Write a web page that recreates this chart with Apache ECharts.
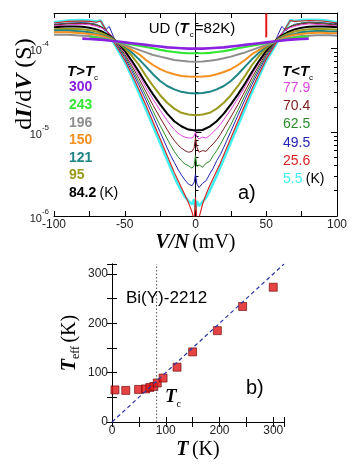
<!DOCTYPE html>
<html><head><meta charset="utf-8">
<script src="https://cdn.jsdelivr.net/npm/echarts@6/dist/echarts.min.js"></script>
<style>html,body{margin:0;padding:0;background:#fff}#c{width:360px;height:473px}</style>
</head><body><div id="c"></div>
<script>
// ---------- Panel a) : dI/dV vs V/N (values stored as log10 of conductance in S) ----------
const biasV = [-100,-95,-90,-85,-80,-75,-70,-65,-60,-55,-50,-45,-40,-35,-30,-25,-20,-15,-10,-5,0,5,10,15,20,25,30,35,40,45,50,55,60,65,70,75,80,85,90,95,100];
const logG_300 = [null,null,null,null,-3.885,-3.89,-3.895,-3.90,-3.91,-3.92,-3.93,-3.94,-3.95,-3.96,-3.97,-3.98,-3.99,-3.995,-4.0,-4.005,-4.005,-4.005,-4.0,-3.995,-3.99,-3.98,-3.97,-3.96,-3.95,-3.94,-3.93,-3.92,-3.91,-3.90,-3.895,-3.89,-3.885,null,null,null,null];
const logG_243 = [null,null,null,null,null,-3.865,-3.875,-3.89,-3.905,-3.925,-3.94,-3.955,-3.97,-3.985,-4.0,-4.02,-4.035,-4.045,-4.055,-4.06,-4.06,-4.06,-4.055,-4.045,-4.035,-4.02,-4.0,-3.985,-3.97,-3.955,-3.94,-3.925,-3.905,-3.89,-3.875,-3.865,-3.86,null,null,null,null];
const logG_196 = [-3.84,-3.84,-3.84,-3.845,-3.85,-3.855,-3.865,-3.88,-3.90,-3.93,-3.96,-3.99,-4.02,-4.05,-4.08,-4.10,-4.12,-4.14,-4.15,-4.158,-4.16,-4.157,-4.15,-4.138,-4.12,-4.10,-4.075,-4.05,-4.02,-3.99,-3.96,-3.93,-3.90,-3.88,-3.865,-3.855,-3.85,-3.845,-3.845,-3.845,-3.85];
const logG_150 = [-3.81,-3.81,-3.81,-3.815,-3.82,-3.83,-3.84,-3.86,-3.89,-3.93,-3.97,-4.02,-4.07,-4.14,-4.20,-4.25,-4.285,-4.31,-4.33,-4.338,-4.34,-4.337,-4.33,-4.31,-4.283,-4.25,-4.20,-4.14,-4.07,-4.02,-3.97,-3.93,-3.89,-3.86,-3.84,-3.83,-3.82,-3.815,-3.815,-3.82,-3.82];
const logG_121 = [-3.79,-3.79,-3.79,-3.795,-3.80,-3.81,-3.83,-3.85,-3.88,-3.93,-3.98,-4.05,-4.13,-4.22,-4.31,-4.39,-4.45,-4.49,-4.52,-4.535,-4.54,-4.535,-4.52,-4.49,-4.45,-4.39,-4.31,-4.22,-4.13,-4.05,-3.98,-3.93,-3.88,-3.85,-3.83,-3.81,-3.80,-3.795,-3.795,-3.80,-3.80];
const logG_95 = [-3.775,-3.77,-3.77,-3.77,-3.775,-3.785,-3.80,-3.83,-3.87,-3.93,-4.00,-4.09,-4.20,-4.33,-4.45,-4.56,-4.65,-4.72,-4.77,-4.79,-4.80,-4.79,-4.77,-4.72,-4.65,-4.56,-4.45,-4.33,-4.20,-4.09,-4.00,-3.93,-3.87,-3.83,-3.80,-3.785,-3.775,-3.77,-3.77,-3.775,-3.78];
const logG_84 = [-3.75,-3.745,-3.74,-3.74,-3.745,-3.755,-3.775,-3.81,-3.86,-3.93,-4.03,-4.15,-4.28,-4.42,-4.55,-4.67,-4.78,-4.87,-4.93,-4.97,-4.98,-4.975,-4.935,-4.87,-4.78,-4.67,-4.55,-4.42,-4.28,-4.15,-4.03,-3.93,-3.86,-3.81,-3.775,-3.755,-3.745,-3.74,-3.74,-3.745,-3.75];

const biasVLow = [-100,-90,-80,-75,-70,-67,-64,-61,-58,-55,-50,-45,-40,-35,-30,-25,-20,-17.5,-15,-12.5,-10,-7.5,-5,-2.5,-1,0,1,2.5,5,7.5,10,12.5,15,17.5,20,25,30,35,40,45,50,55,58,61,64,67,70,75,80,90,100];
const logG_77 = [-3.735,-3.72,-3.715,-3.72,-3.74,-3.755,-3.78,-3.825,-3.875,-3.95,-4.05,-4.18,-4.32,-4.47,-4.61,-4.74,-4.86,-4.92,-4.97,-5.01,-5.04,-5.06,-5.07,-5.07,-5.05,-5.0,-5.06,-5.08,-5.06,-5.07,-5.04,-5.0,-4.96,-4.91,-4.85,-4.73,-4.60,-4.46,-4.31,-4.17,-4.04,-3.94,-3.87,-3.82,-3.78,-3.755,-3.74,-3.72,-3.71,-3.72,-3.735];
const logG_70 = [-3.725,-3.71,-3.705,-3.71,-3.73,-3.745,-3.775,-3.82,-3.88,-3.96,-4.07,-4.21,-4.36,-4.52,-4.68,-4.83,-4.97,-5.04,-5.10,-5.15,-5.19,-5.22,-5.24,-5.23,-5.19,-5.07,-5.18,-5.24,-5.22,-5.23,-5.18,-5.14,-5.09,-5.03,-4.96,-4.82,-4.67,-4.51,-4.35,-4.20,-4.06,-3.95,-3.88,-3.82,-3.775,-3.745,-3.73,-3.71,-3.70,-3.71,-3.725];
const logG_62 = [-3.72,-3.705,-3.70,-3.705,-3.72,-3.74,-3.77,-3.82,-3.885,-3.97,-4.09,-4.24,-4.40,-4.57,-4.75,-4.92,-5.08,-5.16,-5.23,-5.29,-5.34,-5.38,-5.40,-5.43,-5.40,-5.28,-5.41,-5.39,-5.42,-5.37,-5.35,-5.28,-5.22,-5.15,-5.07,-4.91,-4.74,-4.56,-4.39,-4.23,-4.08,-3.96,-3.88,-3.82,-3.77,-3.74,-3.72,-3.70,-3.695,-3.70,-3.72];
const logG_49 = [-3.715,-3.70,-3.695,-3.70,-3.715,-3.74,-3.79,-3.74,-3.86,-3.98,-4.11,-4.27,-4.44,-4.62,-4.81,-5.00,-5.19,-5.28,-5.36,-5.44,-5.51,-5.57,-5.62,-5.64,-5.60,-5.50,-5.62,-5.66,-5.61,-5.58,-5.50,-5.43,-5.34,-5.27,-5.18,-4.99,-4.80,-4.61,-4.43,-4.26,-4.10,-3.97,-3.85,-3.74,-3.79,-3.74,-3.715,-3.70,-3.69,-3.695,-3.715];
const logG_25 = [-3.70,-3.68,-3.675,-3.68,-3.69,-3.675,-3.76,-3.84,-3.92,-4.00,-4.14,-4.31,-4.49,-4.68,-4.88,-5.08,-5.28,-5.38,-5.48,-5.57,-5.66,-5.75,-5.84,-5.95,-6.05,-5.78,-6.05,-6.02,-5.86,-5.74,-5.64,-5.55,-5.46,-5.37,-5.27,-5.07,-4.87,-4.67,-4.48,-4.30,-4.13,-3.99,-3.91,-3.83,-3.75,-3.67,-3.68,-3.675,-3.67,-3.675,-3.70];
const logG_5 = [-3.69,-3.67,-3.665,-3.67,-3.68,-3.67,-3.77,-3.85,-3.93,-4.02,-4.16,-4.34,-4.53,-4.73,-4.93,-5.13,-5.33,-5.43,-5.53,-5.62,-5.70,-5.77,-5.82,-5.86,-5.80,-5.92,-5.82,-5.88,-5.83,-5.78,-5.70,-5.61,-5.52,-5.42,-5.32,-5.12,-4.92,-4.72,-4.52,-4.33,-4.15,-4.01,-3.92,-3.84,-3.76,-3.665,-3.675,-3.665,-3.66,-3.665,-3.69];

const markerV = [50, 50];
const markerG = [2.6e-4, 1.35e-4];

const vTicks = [-100, -50, 0, 50, 100];
const gMajorTicks = [1e-6, 1e-5, 1e-4];
const gMinorTicks = [2e-6,3e-6,4e-6,5e-6,6e-6,7e-6,8e-6,9e-6,2e-5,3e-5,4e-5,5e-5,6e-5,7e-5,8e-5,9e-5,2e-4];

// ---------- Panel b) : T_eff vs T ----------
const tempT = [5.5, 25.6, 49.5, 62.5, 70.4, 77.9, 84.2, 95, 121, 150, 196, 243, 300];
const tempEff = [65, 64, 66, 67, 70, 72, 79, 89, 111, 142, 185, 234, 273];
const diagT = [0, 320];
const diagEff = [0, 320];
const tcT = [83, 83];
const tcEff = [0, 320];

const SANS = 'Liberation Sans, Arial, sans-serif';
const SERIF = 'Liberation Serif, Times New Roman, serif';

function pairsLog(vs, logs) {
  const out = [];
  vs.forEach((v, i) => { if (logs[i] !== null) out.push([v, Math.pow(10, logs[i])]); });
  return out;
}
function pairs(a, b) { return a.map((v, i) => [v, b[i]]); }

const curves = [
  {name:'5.5 K',  v: biasVLow, d: logG_5,  c:'#3ff0f0', w:2.6},
  {name:'25.6 K', v: biasVLow, d: logG_25, c:'#d81e1e', w:1.1},
  {name:'49.5 K', v: biasVLow, d: logG_49, c:'#2323b4', w:1},
  {name:'62.5 K', v: biasVLow, d: logG_62, c:'#2a8a2a', w:1},
  {name:'70.4 K', v: biasVLow, d: logG_70, c:'#7a1c1c', w:1},
  {name:'77.9 K', v: biasVLow, d: logG_77, c:'#dd44dd', w:1},
  {name:'84.2 K', v: biasV, d: logG_84, c:'#000000', w:2},
  {name:'95 K',   v: biasV, d: logG_95, c:'#9a9a1e', w:2},
  {name:'121 K',  v: biasV, d: logG_121, c:'#1e8585', w:2},
  {name:'150 K',  v: biasV, d: logG_150, c:'#f58f1e', w:2},
  {name:'196 K',  v: biasV, d: logG_196, c:'#8e8e8e', w:2},
  {name:'243 K',  v: biasV, d: logG_243, c:'#33e633', w:2.2},
  {name:'300 K',  v: biasV, d: logG_300, c:'#8a22e0', w:2.6}
];

const series = curves.map(c => ({
  name: c.name, type: 'line', xAxisIndex: 0, yAxisIndex: 0,
  data: pairsLog(c.v, c.d), showSymbol: false, symbol: 'none', clip: true,
  lineStyle: {color: c.c, width: c.w}, silent: true
}));
series.push({type:'line', xAxisIndex:0, yAxisIndex:0, data: pairs(markerV, markerG), symbol:'none',
  lineStyle:{color:'#e01818', width:2}, silent:true});
series.push({type:'line', xAxisIndex:2, yAxisIndex:4, data: pairs(tcT, tcEff), symbol:'none',
  lineStyle:{color:'#555', width:1, type:[1.5,2]}, silent:true});
series.push({type:'line', xAxisIndex:2, yAxisIndex:4, data: pairs(diagT, diagEff), symbol:'none',
  lineStyle:{color:'#2a36a8', width:1.2, type:[4,3]}, silent:true});
series.push({type:'scatter', xAxisIndex:2, yAxisIndex:4, data: pairs(tempT, tempEff), symbol:'rect', symbolSize:8,
  itemStyle:{color:'#e01515', borderColor:'#6a0000', borderWidth:0.8}, silent:true});

const axLine = {show:true, lineStyle:{color:'#000', width:1}};
function logAxis(pos, ticks, len, withLabel, showLine) {
  return {
    type:'log', gridIndex:0, position:pos, min:1e-6, max:2.63e-4, logBase:10,
    axisLine: showLine ? axLine : {show:false},
    axisTick:{show:true, inside:true, length:len, customValues: ticks, lineStyle:{color:'#000', width:1}},
    axisLabel: withLabel ? {show:true, customValues: gMajorTicks, margin:5,
      formatter: v => '{b|10}{s|' + Math.round(Math.log10(v)) + '}',
      rich:{b:{fontSize:11, fontFamily:SANS, color:'#222', lineHeight:16, verticalAlign:'bottom'},
            s:{fontSize:8, fontFamily:SANS, color:'#222', lineHeight:16, verticalAlign:'top'}}} : {show:false},
    splitLine:{show:false}, minorTick:{show:false}
  };
}

const option = {
  animation:false,
  backgroundColor:'#fff',
  grid:[
    {left:54, width:283, top:13, height:203},
    {left:112, width:172, top:264, height:158}
  ],
  xAxis:[
    {type:'value', gridIndex:0, position:'bottom', min:-100, max:100, interval:25,
     axisLine:axLine, axisTick:{inside:true, length:5, lineStyle:{color:'#000'}},
     axisLabel:{customValues: vTicks, fontSize:12, fontFamily:SANS, color:'#222', margin:3},
     splitLine:{show:false},
     name:'{bi|V/N} {n|(mV)}', nameLocation:'middle', nameGap:17,
     nameTextStyle:{rich:{bi:{fontFamily:SERIF, fontSize:20, fontWeight:'bold', fontStyle:'italic', color:'#000'},
                          n:{fontFamily:SERIF, fontSize:20, color:'#000'}}}},
    {type:'value', gridIndex:0, position:'top', min:-100, max:100, interval:25,
     axisLine:axLine, axisTick:{inside:true, length:5, lineStyle:{color:'#000'}},
     axisLabel:{show:false}, splitLine:{show:false}},
    {type:'value', gridIndex:1, position:'bottom', min:0, max:320, interval:50,
     axisLine:axLine, axisTick:{inside:true, length:5, lineStyle:{color:'#000'}},
     axisLabel:{fontSize:12, fontFamily:SANS, color:'#222', margin:3,
       formatter: v => (v % 100 === 0 ? String(v) : '')},
     splitLine:{show:false},
     name:'{bi|T} {n|(K)}', nameLocation:'middle', nameGap:18,
     nameTextStyle:{rich:{bi:{fontFamily:SERIF, fontSize:20, fontWeight:'bold', fontStyle:'italic', color:'#000'},
                          n:{fontFamily:SERIF, fontSize:20, color:'#000'}}}},
    {type:'value', gridIndex:1, position:'top', min:0, max:320, interval:50,
     axisLine:axLine, axisTick:{inside:true, length:5, lineStyle:{color:'#000'}},
     axisLabel:{show:false}, splitLine:{show:false}}
  ],
  yAxis:[
    logAxis('left', gMajorTicks, 6, true, true),
    logAxis('left', gMinorTicks, 3, false, false),
    logAxis('right', gMajorTicks, 6, false, true),
    logAxis('right', gMinorTicks, 3, false, false),
    {type:'value', gridIndex:1, position:'left', min:0, max:320, interval:50,
     axisLine:axLine, axisTick:{inside:true, length:5, lineStyle:{color:'#000'}},
     axisLabel:{fontSize:12, fontFamily:SANS, color:'#222', margin:4,
       formatter: v => (v % 100 === 0 ? String(v) : '')},
     splitLine:{show:false},
     name:'{bi|T}{s|eff} {n|(K)}', nameLocation:'middle', nameGap:30,
     nameTextStyle:{rich:{bi:{fontFamily:SERIF, fontSize:20, fontWeight:'bold', fontStyle:'italic', color:'#000', lineHeight:24, verticalAlign:'middle'},
                          s:{fontFamily:SERIF, fontSize:12, color:'#000', lineHeight:24, verticalAlign:'bottom'},
                          n:{fontFamily:SERIF, fontSize:20, color:'#000', lineHeight:24, verticalAlign:'middle'}}}},
    {type:'value', gridIndex:1, position:'right', min:0, max:320, interval:50,
     axisLine:axLine, axisTick:{inside:true, length:5, lineStyle:{color:'#000'}},
     axisLabel:{show:false}, splitLine:{show:false}}
  ],
  series: series,
  graphic: [
    {type:'text', x:25, y:84, rotation:Math.PI/2, z:100,
     style:{text:'{n|d}{bi|I}{n|/d}{bi|V}{n| (S)}', align:'center', verticalAlign:'middle',
       rich:{n:{fontFamily:SERIF, fontSize:24, fill:'#000'},
             bi:{fontFamily:SERIF, fontSize:24, fontWeight:'bold', fontStyle:'italic', fill:'#000'}}}},
    {type:'text', x:192, y:29, z:100,
     style:{text:'{n|UD (}{t|T}{s|c}{n|=82K)}', align:'center', verticalAlign:'middle',
       rich:{n:{fontFamily:SANS, fontSize:15, fill:'#000', lineHeight:20, verticalAlign:'middle'},
             t:{fontFamily:SANS, fontSize:15, fontWeight:'bold', fontStyle:'italic', fill:'#000', lineHeight:20, verticalAlign:'middle'},
             s:{fontFamily:SANS, fontSize:8, fill:'#000', lineHeight:20, verticalAlign:'bottom', padding:[0,1,0,1]}}}},
    {type:'text', x:67, y:72, z:100,
     style:{text:'{t|T}{o|>}{t|T}{s|c}', align:'left', verticalAlign:'middle',
       rich:{t:{fontFamily:SANS, fontSize:15, fontWeight:'bold', fontStyle:'italic', fill:'#000', lineHeight:20, verticalAlign:'middle'},
             o:{fontFamily:SANS, fontSize:15, fontWeight:'bold', fill:'#000', lineHeight:20, verticalAlign:'middle'},
             s:{fontFamily:SANS, fontSize:8, fill:'#000', lineHeight:20, verticalAlign:'bottom'}}}},
    {type:'text', x:69, y:87.5, z:100, style:{text:'300', fill:'#8a22e0', fontFamily:SANS, fontSize:14, fontWeight:'bold', verticalAlign:'middle'}},
    {type:'text', x:69, y:105, z:100, style:{text:'243', fill:'#33e633', fontFamily:SANS, fontSize:14, fontWeight:'bold', verticalAlign:'middle'}},
    {type:'text', x:69, y:122.7, z:100, style:{text:'196', fill:'#8e8e8e', fontFamily:SANS, fontSize:14, fontWeight:'bold', verticalAlign:'middle'}},
    {type:'text', x:69, y:140.3, z:100, style:{text:'150', fill:'#f58f1e', fontFamily:SANS, fontSize:14, fontWeight:'bold', verticalAlign:'middle'}},
    {type:'text', x:69, y:158, z:100, style:{text:'121', fill:'#1e8585', fontFamily:SANS, fontSize:14, fontWeight:'bold', verticalAlign:'middle'}},
    {type:'text', x:69, y:175.5, z:100, style:{text:'95', fill:'#9a9a1e', fontFamily:SANS, fontSize:14, fontWeight:'bold', verticalAlign:'middle'}},
    {type:'text', x:69, y:193.2, z:100,
     style:{text:'{b|84.2} {n|(K)}', verticalAlign:'middle',
       rich:{b:{fontFamily:SANS, fontSize:14, fontWeight:'bold', fill:'#000'}, n:{fontFamily:SANS, fontSize:14, fill:'#000'}}}},
    {type:'text', x:282, y:72, z:100,
     style:{text:'{t|T}{o|<}{t|T}{s|c}', align:'left', verticalAlign:'middle',
       rich:{t:{fontFamily:SANS, fontSize:15, fontWeight:'bold', fontStyle:'italic', fill:'#000', lineHeight:20, verticalAlign:'middle'},
             o:{fontFamily:SANS, fontSize:15, fontWeight:'bold', fill:'#000', lineHeight:20, verticalAlign:'middle'},
             s:{fontFamily:SANS, fontSize:8, fill:'#000', lineHeight:20, verticalAlign:'bottom'}}}},
    {type:'text', x:283, y:88.5, z:100, style:{text:'77.9', fill:'#dd44dd', fontFamily:SANS, fontSize:14, verticalAlign:'middle'}},
    {type:'text', x:283, y:106.5, z:100, style:{text:'70.4', fill:'#7a1c1c', fontFamily:SANS, fontSize:14, verticalAlign:'middle'}},
    {type:'text', x:283, y:124.5, z:100, style:{text:'62.5', fill:'#2a8a2a', fontFamily:SANS, fontSize:14, verticalAlign:'middle'}},
    {type:'text', x:283, y:143, z:100, style:{text:'49.5', fill:'#2323b4', fontFamily:SANS, fontSize:14, verticalAlign:'middle'}},
    {type:'text', x:283, y:161.3, z:100, style:{text:'25.6', fill:'#d81e1e', fontFamily:SANS, fontSize:14, verticalAlign:'middle'}},
    {type:'text', x:283, y:179, z:100,
     style:{text:'{c|5.5} {n|(K)}', verticalAlign:'middle',
       rich:{c:{fontFamily:SANS, fontSize:14, fill:'#3ff0f0'}, n:{fontFamily:SANS, fontSize:14, fill:'#000'}}}},
    {type:'text', x:238, y:193, z:100, style:{text:'a)', fill:'#000', fontFamily:SANS, fontSize:20, verticalAlign:'middle'}},
    {type:'text', x:126, y:298, z:100, style:{text:'Bi(Y)-2212', fill:'#000', fontFamily:SANS, fontSize:17, verticalAlign:'middle'}},
    {type:'text', x:165, y:397, z:100,
     style:{text:'{t|T}{s|c}', verticalAlign:'middle',
       rich:{t:{fontFamily:SERIF, fontSize:19, fontWeight:'bold', fontStyle:'italic', fill:'#000', lineHeight:24, verticalAlign:'middle'},
             s:{fontFamily:SERIF, fontSize:10, fill:'#000', lineHeight:24, verticalAlign:'bottom'}}}},
    {type:'text', x:246, y:388, z:100, style:{text:'b)', fill:'#000', fontFamily:SANS, fontSize:20, verticalAlign:'middle'}}
  ]
};
const chart = echarts.init(document.getElementById('c'), null, {renderer:'canvas'});
chart.setOption(option);
</script></body></html>
